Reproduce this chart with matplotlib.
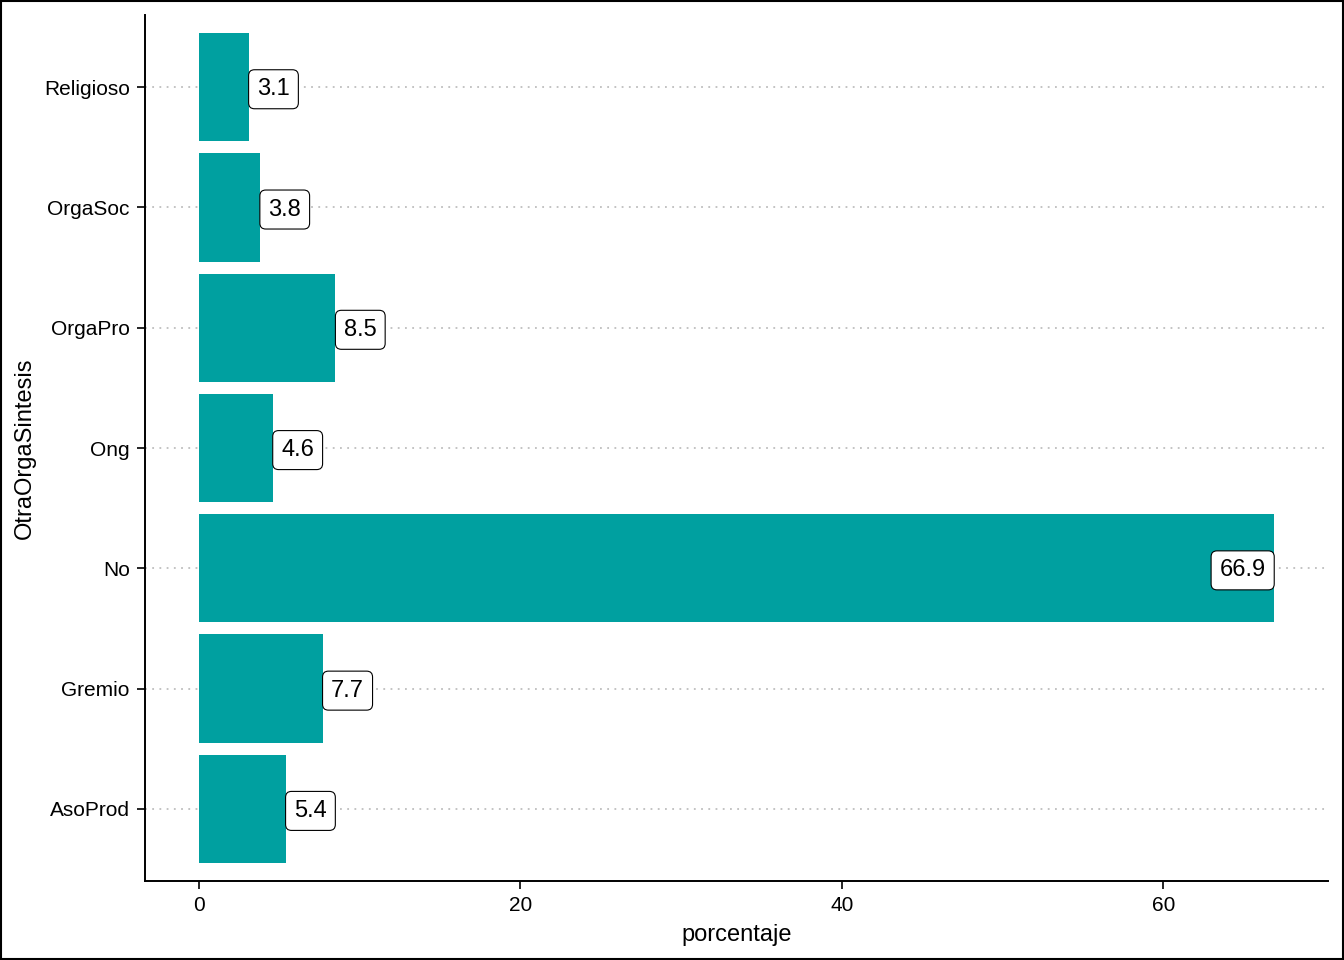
import numpy as np
import matplotlib.pyplot as plt
from matplotlib.patches import Rectangle

plt.rcParams['font.family'] = ['Liberation Sans', 'DejaVu Sans']

categorias = ["AsoProd", "Gremio", "No", "Ong", "OrgaPro", "OrgaSoc", "Religioso"]
porcentaje = [5.4, 7.7, 66.9, 4.6, 8.5, 3.8, 3.1]

fig = plt.figure(figsize=(13.44, 9.6), dpi=100)
ax = fig.add_axes([145/1344, 1-881/960, (1328-145)/1344, (881-15)/960])

y = np.arange(len(categorias))
ax.barh(y, porcentaje, height=0.9, color="#00A0A0", zorder=2)

for yi in y:
    ax.axhline(yi, color="#BEBEBE", lw=1.3, ls=(0, (1, 3)), zorder=1)

xmax = max(porcentaje)
fs = 17
pad = 0.36
for yi, v in zip(y, porcentaje):
    # label sits outside the bar unless that would leave the panel
    if v > 0.9 * xmax:
        ha, dx = "right", -pad * fs
    else:
        ha, dx = "left", pad * fs
    ax.annotate(f"{v:.1f}", (v, yi), xytext=(dx, -1.5), textcoords="offset points",
                ha=ha, va="center", fontsize=fs, zorder=3,
                bbox=dict(boxstyle=f"round,pad={pad},rounding_size=0.25", fc="white", ec="black", lw=0.8))

ax.set_xlim(-0.05 * xmax, 1.05 * xmax)
ax.set_ylim(-0.6, len(categorias) - 0.4)
ax.set_yticks(y)
ax.set_yticklabels(categorias)
ax.set_xticks([0, 20, 40, 60])
ax.tick_params(axis="both", labelsize=15, length=6, width=1.2, color="black", pad=5)
for s in ["top", "right"]:
    ax.spines[s].set_visible(False)
for s in ["left", "bottom"]:
    ax.spines[s].set_linewidth(1.4)

ax.set_xlabel("porcentaje", fontsize=17, labelpad=6)
ax.set_ylabel("OtraOrgaSintesis", fontsize=17, labelpad=6)

fig.patches.append(Rectangle((0.001, 0.001), 0.998, 0.998, transform=fig.transFigure,
                             fill=False, ec="black", lw=1.5))

fig.savefig("out.png", dpi=100)
